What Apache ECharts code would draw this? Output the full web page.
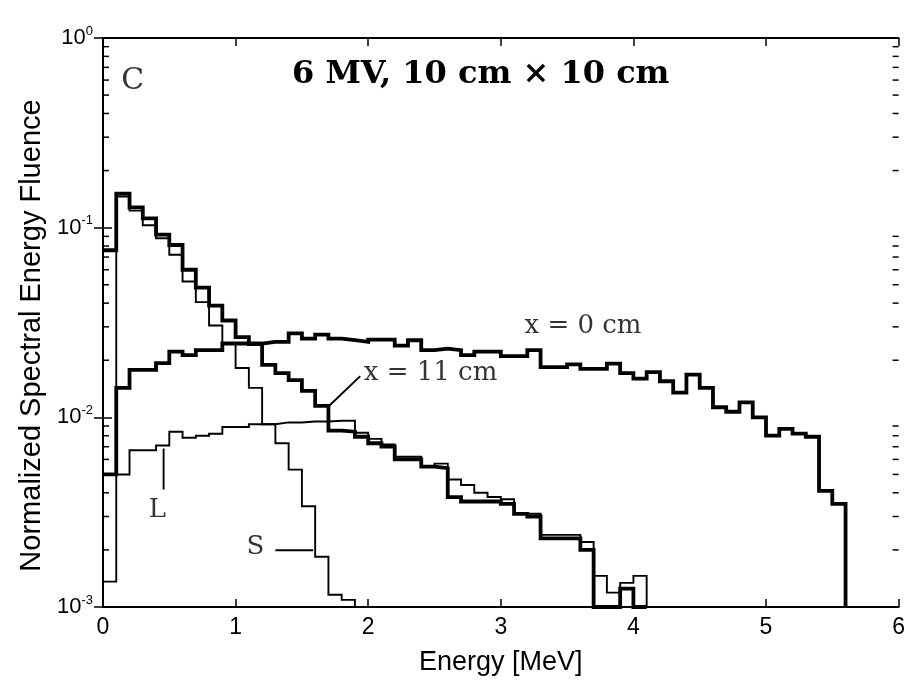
<!DOCTYPE html>
<html>
<head>
<meta charset="utf-8">
<script src="https://cdn.jsdelivr.net/npm/echarts@6.0.0/dist/echarts.min.js"></script>
<style>
html, body { margin: 0; padding: 0; background: #fff; }
#chart { width: 908px; height: 681px; }
</style>
</head>
<body>
<div id="chart"></div>
<script>
// spectra, one value per 0.1 MeV bin starting at 0 MeV
var binWidth = 0.1
var floorValue = 0.001

var xZero = [0.0050, 0.0143, 0.0178, 0.0178, 0.0193, 0.0222, 0.0213, 0.0226, 0.0226, 0.0245,
             0.0245, 0.0245, 0.0250, 0.0250, 0.0277, 0.0260, 0.0273, 0.0260, 0.0255, 0.0250,
             0.0257, 0.0257, 0.0239, 0.0255, 0.0226, 0.0230, 0.0226, 0.0213, 0.0222, 0.0222,
             0.0210, 0.0210, 0.0226, 0.0184, 0.0184, 0.0190, 0.0180, 0.0180, 0.0192, 0.0171,
             0.0160, 0.0173, 0.0155, 0.0135, 0.0168, 0.0143, 0.0113, 0.0107, 0.0120, 0.0100,
             0.0080, 0.0087, 0.0082, 0.0079, 0.0041, 0.0035]

var xEleven = [0.076, 0.151, 0.128, 0.112, 0.092, 0.081, 0.060, 0.0483, 0.0388, 0.0324,
               0.0265, 0.0243, 0.0189, 0.0171, 0.0157, 0.0138, 0.0115, 0.0085, 0.0084, 0.0079,
               0.0073, 0.0070, 0.0060, 0.0060, 0.0055, 0.0054, 0.0038, 0.0036, 0.0036, 0.0036,
               0.0035, 0.0031, 0.0030, 0.0023, 0.0023, 0.0023, 0.0020, 0.0010, 0.0010, 0.00125,
               0.0010]

var sCurve = [0.00136, 0.146, 0.123, 0.103, 0.088, 0.072, 0.052, 0.0405, 0.0305, 0.0245,
              0.0182, 0.0143, 0.0092, 0.0073, 0.0053, 0.0034, 0.00184, 0.00116, 0.00109]

var lCurve = [0.0050, 0.0050, 0.0067, 0.0067, 0.0071, 0.0084, 0.0078, 0.0080, 0.0082, 0.0089,
              0.0089, 0.0092, 0.0092, 0.0094, 0.0094, 0.0095, 0.0095, 0.0096, 0.0096, 0.0083,
              0.0077, 0.0072, 0.0062, 0.0062, 0.0055, 0.0057, 0.0047, 0.0044, 0.0040, 0.0038,
              0.0037, 0.0031, 0.0031, 0.0024, 0.0024, 0.0024, 0.0022, 0.00146, 0.00119, 0.00134,
              0.00146]

// annotation text and leader lines, in data coordinates
var labels = [
    {name: 'x = 0 cm', value: [3.62, 0.0301]},
    {name: 'x = 11 cm', value: [2.47, 0.0171]},
    {name: 'L', value: [0.41, 0.00325]},
    {name: 'S', value: [1.15, 0.00206]}
]
var panelLetter = {name: 'C', value: [0.225, 0.59]}
var leaders = [
    [[0.457, 0.00685], [0.457, 0.00416]],
    [[1.30, 0.00199], [1.585, 0.00199]],
    [[1.70, 0.0114], [1.94, 0.0165]]
]

var titleText = '6 MV, 10 cm \u00d7 10 cm'
var xName = 'Energy [MeV]'
var yName = 'Normalized Spectral Energy Fluence'

// log minor ticks 2..9 in each decade
var minorTicks = []
for (var e = -3; e < 0; e++) {
    for (var m = 2; m <= 9; m++) minorTicks.push([0, m * Math.pow(10, e)])
}

function stepData(bins) {
    var pts = bins.map(function (v, i) { return [+(i * binWidth).toFixed(2), v] })
    pts.push([+(bins.length * binWidth).toFixed(2), floorValue])
    return pts
}

function stepSeries(bins, width) {
    return {
        type: 'line', step: 'end', data: stepData(bins), showSymbol: false, silent: true,
        lineStyle: {color: '#000', width: width, join: 'miter'}, z: width > 2 ? 4 : 3
    }
}

var chart = echarts.init(document.getElementById('chart'), null, {renderer: 'canvas'})

var sansFont = 'Liberation Sans'
var serifFont = 'DejaVu Serif'

var option = {
    animation: false,
    backgroundColor: '#fff',
    title: {
        text: titleText, left: 287, top: 54,
        textStyle: {fontFamily: serifFont, fontWeight: 'bold', fontSize: 32, color: '#000'}
    },
    grid: {left: 103, right: 7, top: 38, bottom: 64},
    xAxis: [{
        type: 'value', min: 0, max: 6, interval: 1,
        name: xName, nameLocation: 'middle', nameGap: 42,
        nameTextStyle: {fontFamily: sansFont, fontSize: 27, color: '#000'},
        axisLine: {lineStyle: {color: '#000', width: 2}},
        axisTick: {inside: true, length: 8, lineStyle: {color: '#000', width: 1.5}},
        axisLabel: {margin: 9, fontFamily: sansFont, fontSize: 23, color: '#000'},
        splitLine: {show: false}
    }, {
        type: 'value', min: 0, max: 6, interval: 1, position: 'top',
        axisLine: {lineStyle: {color: '#000', width: 2}},
        axisTick: {inside: true, length: 8, lineStyle: {color: '#000', width: 1.5}},
        axisLabel: {show: false}, splitLine: {show: false}
    }],
    yAxis: [{
        type: 'log', logBase: 10, min: 0.001, max: 1,
        name: yName, nameLocation: 'middle', nameGap: 57,
        nameTextStyle: {fontFamily: sansFont, fontSize: 29, color: '#000', padding: [0, 26, 0, 0]},
        axisLine: {show: true, lineStyle: {color: '#000', width: 2}},
        axisTick: {inside: true, length: 9, lineStyle: {color: '#000', width: 1.5}},
        axisLabel: {
            margin: 10,
            formatter: function (v) {
                var p = Math.round(Math.log10(v))
                return '{b|10}{s|' + p + '}'
            },
            rich: {
                b: {fontFamily: sansFont, fontSize: 22, color: '#000'},
                s: {fontFamily: sansFont, fontSize: 13, color: '#000', lineHeight: 13, padding: [0, 0, 14, 0]}
            }
        },
        splitLine: {show: false}
    }, {
        type: 'log', logBase: 10, min: 0.001, max: 1, position: 'right',
        axisLine: {show: true, lineStyle: {color: '#000', width: 2}},
        axisTick: {inside: true, length: 9, lineStyle: {color: '#000', width: 1.5}},
        axisLabel: {show: false}, splitLine: {show: false}
    }],
    series: [
        stepSeries(sCurve, 1.9),
        stepSeries(lCurve, 1.9),
        stepSeries(xZero, 3.8),
        stepSeries(xEleven, 3.8)
    ]
}

leaders.forEach(function (seg) {
    option.series.push({
        type: 'line', data: seg, showSymbol: false, silent: true,
        lineStyle: {color: '#000', width: 1.9}
    })
})

option.series.push({
    type: 'scatter', data: labels, symbolSize: 0, silent: true,
    label: {
        show: true, position: 'inside', formatter: '{b}',
        fontFamily: serifFont, fontSize: 26, color: '#000'
    }
})

option.series.push({
    type: 'scatter', data: [panelLetter], symbolSize: 0, silent: true,
    label: {
        show: true, position: 'inside', formatter: '{b}',
        fontFamily: serifFont, fontSize: 30, color: '#000'
    }
})

option.series.push({
    type: 'custom', data: minorTicks, silent: true, z: 10,
    renderItem: function (params, api) {
        var v = api.value(1)
        var a = api.coord([0, v])
        var b = api.coord([6, v])
        var len = 6
        var st = {stroke: '#000', lineWidth: 1.5}
        return {
            type: 'group', children: [
                {type: 'line', shape: {x1: a[0], y1: a[1], x2: a[0] + len, y2: a[1]}, style: st},
                {type: 'line', shape: {x1: b[0] - len, y1: b[1], x2: b[0], y2: b[1]}, style: st}
            ]
        }
    }
})

chart.setOption(option)
</script>
</body>
</html>
